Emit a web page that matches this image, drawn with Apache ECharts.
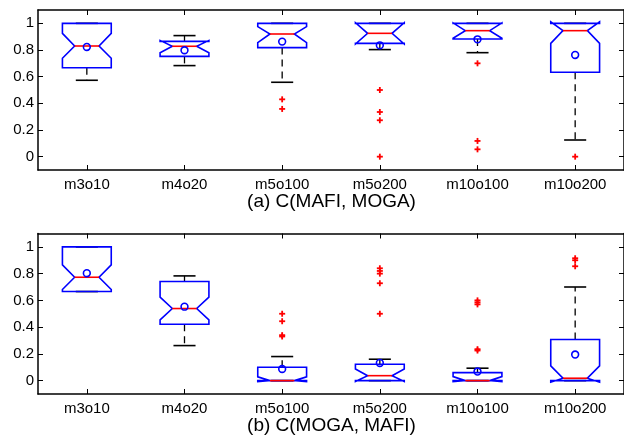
<!DOCTYPE html>
<html>
<head>
<meta charset="utf-8">
<script src="https://cdn.jsdelivr.net/npm/echarts@6/dist/echarts.min.js"></script>
<style>
  html, body { margin: 0; padding: 0; background: #ffffff; }
  #chart { width: 624px; height: 435px; }
</style>
</head>
<body>
<div id="chart"></div>
<script>
// Problem instances on the x axis
const categories = ['m3o10', 'm4o20', 'm5o100', 'm5o200', 'm10o100', 'm10o200'];
const yTicks = [0, 0.2, 0.4, 0.6, 0.8, 1];

// (a) C(MAFI, MOGA) — box statistics per instance
const whiskerLowA  = [0.573, 0.683, 0.558, 0.803, 0.780, 0.125];
const q1A          = [0.667, 0.752, 0.818, 0.850, 0.883, 0.633];
const notchLowA    = [0.738, 0.780, 0.855, 0.845, 0.888, 0.850];
const medianA      = [0.830, 0.828, 0.920, 0.925, 0.945, 0.945];
const notchHighA   = [0.925, 0.872, 0.975, 1.005, 1.003, 1.012];
const q3A          = [1.000, 0.865, 1.000, 1.000, 1.000, 1.000];
const whiskerHighA = [1.000, 0.908, 1.000, 1.000, 1.000, 1.000];
const meanA        = [0.823, 0.798, 0.863, 0.835, 0.880, 0.763];
const outliersA = [
  [2, 0.430], [2, 0.358],
  [3, 0.500], [3, 0.335], [3, 0.273], [3, 0.000],
  [4, 0.700], [4, 0.118], [4, 0.055],
  [5, 0.000]
];

// (b) C(MOGA, MAFI) — box statistics per instance
const whiskerLowB  = [0.666, 0.262, 0.000, 0.000, 0.000, 0.000];
const q1B          = [0.666, 0.422, 0.000, 0.000, 0.000, 0.000];
const notchLowB    = [0.681, 0.454, -0.008, -0.006, -0.008, -0.012];
const medianB      = [0.773, 0.539, 0.000, 0.037, 0.000, 0.018];
const notchHighB   = [0.865, 0.624, 0.028, 0.087, 0.030, 0.110];
const q3B          = [1.000, 0.741, 0.100, 0.122, 0.060, 0.308];
const whiskerHighB = [1.000, 0.783, 0.180, 0.160, 0.093, 0.700];
const meanB        = [0.803, 0.553, 0.087, 0.132, 0.068, 0.195];
const outliersB = [
  [2, 0.500], [2, 0.444], [2, 0.340], [2, 0.330],
  [3, 0.840], [3, 0.820], [3, 0.800], [3, 0.728], [3, 0.500],
  [4, 0.600], [4, 0.585], [4, 0.570], [4, 0.235], [4, 0.225],
  [5, 0.915], [5, 0.900], [5, 0.855]
];

const FONT = '"Liberation Sans", Arial, Helvetica, sans-serif';
const BLUE = '#0000ff';
const RED = '#ff0000';

function boxRows(wl, q1, nl, med, nh, q3, wh, mean) {
  return categories.map((_, i) => [i, wl[i], q1[i], nl[i], med[i], nh[i], q3[i], wh[i], mean[i]]);
}

// Notched box with dashed whiskers, red median and hollow mean marker
function renderBox(params, api) {
  const i = api.value(0);
  const band = api.size([1, 0])[0];
  const c = api.coord([i, 0])[0];
  const py = v => api.coord([i, v])[1];
  const wl = api.value(1), q1 = api.value(2), nl = api.value(3), med = api.value(4);
  const nh = api.value(5), q3 = api.value(6), wh = api.value(7), mean = api.value(8);
  const half = band * 0.25, inset = band * 0.125, cap = band * 0.113;
  const L = c - half, R = c + half, NL = c - inset, NR = c + inset;
  const children = [];
  const whisk = { stroke: '#000', lineWidth: 1.3, lineDash: [7, 5] };
  const capStyle = { stroke: '#000', lineWidth: 1.6 };
  if (wl < q1) children.push({ type: 'line', shape: { x1: c, y1: py(q1), x2: c, y2: py(wl) }, style: whisk });
  if (wh > q3) children.push({ type: 'line', shape: { x1: c, y1: py(q3), x2: c, y2: py(wh) }, style: whisk });
  children.push({ type: 'line', shape: { x1: c - cap, y1: py(wl), x2: c + cap, y2: py(wl) }, style: capStyle });
  children.push({ type: 'line', shape: { x1: c - cap, y1: py(wh), x2: c + cap, y2: py(wh) }, style: capStyle });
  children.push({
    type: 'polygon',
    shape: { points: [
      [L, py(q1)], [L, py(nl)], [NL, py(med)], [L, py(nh)], [L, py(q3)],
      [R, py(q3)], [R, py(nh)], [NR, py(med)], [R, py(nl)], [R, py(q1)]
    ] },
    style: { fill: 'none', stroke: BLUE, lineWidth: 1.6 }
  });
  children.push({ type: 'line', shape: { x1: NL, y1: py(med), x2: NR, y2: py(med) }, style: { stroke: RED, lineWidth: 1.6 } });
  children.push({ type: 'circle', shape: { cx: c, cy: py(mean), r: 3.4 }, style: { fill: 'none', stroke: BLUE, lineWidth: 1.6 } });
  return { type: 'group', children };
}

// Red plus markers for outliers
function renderPlus(params, api) {
  const p = api.coord([api.value(0), api.value(1)]);
  const s = 3;
  const st = { stroke: RED, lineWidth: 1.8 };
  return { type: 'group', children: [
    { type: 'line', shape: { x1: p[0] - s, y1: p[1], x2: p[0] + s, y2: p[1] }, style: st },
    { type: 'line', shape: { x1: p[0], y1: p[1] - s, x2: p[0], y2: p[1] + s }, style: st }
  ] };
}

const frame = { show: true, onZero: false, lineStyle: { color: '#000', width: 1.5 } };
const tickIn = { show: true, inside: true, length: 5, lineStyle: { color: '#000', width: 1 } };

function xAxes(grid) {
  return [
    { type: 'category', gridIndex: grid, position: 'bottom', data: categories, boundaryGap: true,
      axisLine: frame, axisTick: Object.assign({ alignWithLabel: true }, tickIn),
      axisLabel: { color: '#000', fontSize: 15, fontFamily: FONT, margin: 7 }, splitLine: { show: false } },
    { type: 'category', gridIndex: grid, position: 'top', data: categories, boundaryGap: true,
      axisLine: frame, axisTick: Object.assign({ alignWithLabel: true }, tickIn),
      axisLabel: { show: false }, splitLine: { show: false } }
  ];
}
function yAxes(grid) {
  const fmt = v => String(Math.round(v * 10) / 10);
  return [
    { type: 'value', gridIndex: grid, position: 'left', min: -0.1, max: 1.1,
      axisLine: frame, axisTick: Object.assign({ customValues: yTicks }, tickIn),
      axisLabel: { customValues: yTicks, formatter: fmt, color: '#000', fontSize: 15, fontFamily: FONT, margin: 4 },
      splitLine: { show: false } },
    { type: 'value', gridIndex: grid, position: 'right', min: -0.1, max: 1.1,
      axisLine: frame, axisTick: Object.assign({ customValues: yTicks }, tickIn),
      axisLabel: { show: false }, splitLine: { show: false } }
  ];
}

const chart = echarts.init(document.getElementById('chart'), null, { renderer: 'canvas' });
chart.setOption({
  animation: false,
  backgroundColor: '#ffffff',
  grid: [
    { left: 38, top: 10, width: 587, height: 160 },
    { left: 38, top: 233.5, width: 587, height: 160.5 }
  ],
  xAxis: xAxes(0).concat(xAxes(1)),
  yAxis: yAxes(0).concat(yAxes(1)),
  series: [
    { type: 'custom', xAxisIndex: 0, yAxisIndex: 0, renderItem: renderBox, clip: false,
      data: boxRows(whiskerLowA, q1A, notchLowA, medianA, notchHighA, q3A, whiskerHighA, meanA) },
    { type: 'custom', xAxisIndex: 0, yAxisIndex: 0, renderItem: renderPlus, clip: false, data: outliersA },
    { type: 'custom', xAxisIndex: 2, yAxisIndex: 2, renderItem: renderBox, clip: false,
      data: boxRows(whiskerLowB, q1B, notchLowB, medianB, notchHighB, q3B, whiskerHighB, meanB) },
    { type: 'custom', xAxisIndex: 2, yAxisIndex: 2, renderItem: renderPlus, clip: false, data: outliersB }
  ],
  graphic: [
    { type: 'text', x: 331.5, y: 202, style: { text: '(a) C(MAFI, MOGA)', fontSize: 19, fontFamily: FONT, fill: '#000', align: 'center', verticalAlign: 'middle' } },
    { type: 'text', x: 331.5, y: 426, style: { text: '(b) C(MOGA, MAFI)', fontSize: 19, fontFamily: FONT, fill: '#000', align: 'center', verticalAlign: 'middle' } }
  ]
});
</script>
</body>
</html>
